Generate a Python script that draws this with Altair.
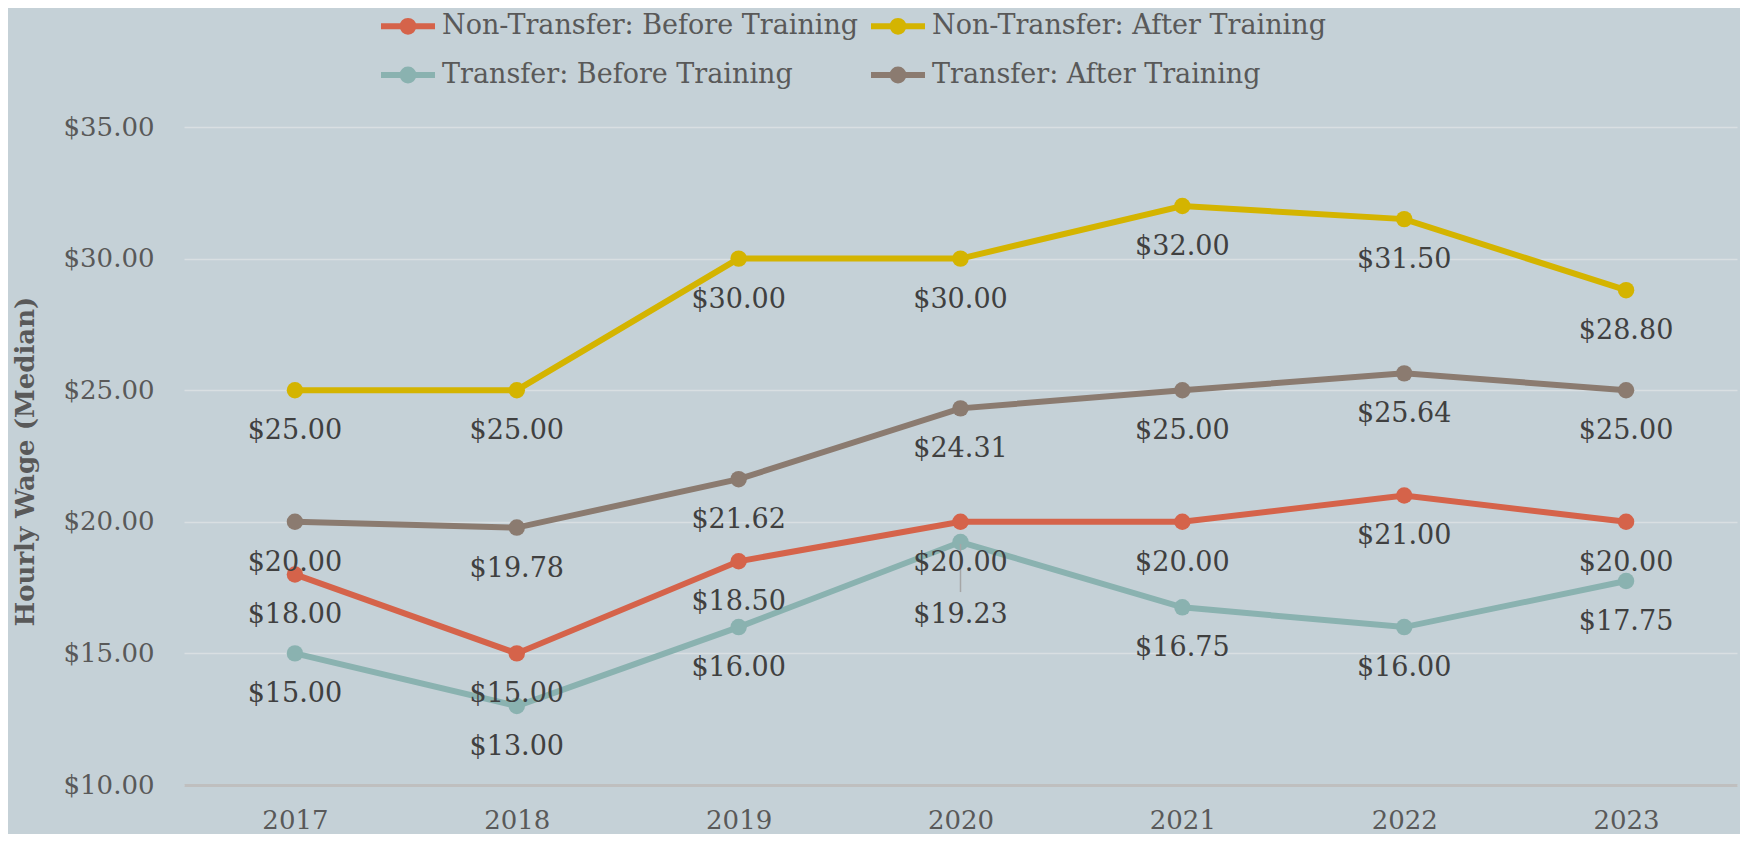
import altair as alt
import pandas as pd

years = ["2017", "2018", "2019", "2020", "2021", "2022", "2023"]
series_names = [
    "Non-Transfer: Before Training",
    "Non-Transfer: After Training",
    "Transfer: Before Training",
    "Transfer: After Training",
]
nt_before = [18.00, 15.00, 18.50, 20.00, 20.00, 21.00, 20.00]
nt_after = [25.00, 25.00, 30.00, 30.00, 32.00, 31.50, 28.80]
t_before = [15.00, 13.00, 16.00, 19.23, 16.75, 16.00, 17.75]
t_after = [20.00, 19.78, 21.62, 24.31, 25.00, 25.64, 25.00]
colors = ["#D5634A", "#D4B400", "#8AB2B0", "#8B7B70"]
y_ticks = [10, 15, 20, 25, 30, 35]

rows = []
for name, vals in zip(series_names, [nt_before, nt_after, t_before, t_after]):
    for yr, v in zip(years, vals):
        rows.append({"year": yr, "series": name, "wage": v})
df = pd.DataFrame(rows)

FONT = "DejaVu Serif"
moved = "datum.series == 'Transfer: Before Training' && datum.year == '2020'"

legend = alt.Legend(
    title=None, orient="none", legendX=194, legendY=-131, columns=2, direction="horizontal",
    labelFont=FONT, labelFontSize=27, labelColor="#595959", labelLimit=0,
    symbolType="M-1,0L1,0M0.2,0A0.2,0.2,0,1,1,-0.2,0A0.2,0.2,0,1,1,0.2,0Z",
    symbolSize=2916, symbolStrokeWidth=6, columnPadding=0, rowPadding=1,
    labelOffset=4, padding=0,
)
color = alt.Color("series:N", scale=alt.Scale(domain=series_names, range=colors), legend=legend)

x = alt.X("year:O", scale=alt.Scale(type="point", padding=0.5),
          axis=alt.Axis(title=None, labelFont=FONT, labelFontSize=26, labelColor="#595959",
                        labelPadding=22, ticks=False, domainColor="#BFBFBF", domainWidth=3,
                        grid=False, labelAngle=0))
y = alt.Y("wage:Q", scale=alt.Scale(domain=[10, 35], nice=False, zero=False),
          axis=alt.Axis(values=y_ticks, format="$.2f", title="Hourly Wage (Median)",
                        titleFont=FONT, titleFontSize=26, titleFontWeight="bold",
                        titleColor="#595959", titleX=-159, titleY=334, titleAngle=270,
                        titleAlign="center", titleBaseline="middle",
                        labelFont=FONT, labelFontSize=26, labelColor="#595959",
                        labelPadding=30, domain=False, ticks=False,
                        gridColor="#D9DFE2", gridWidth=1.5))

base = alt.Chart(df)
lines = base.mark_line(strokeWidth=6).encode(x=x, y=y, color=color, order=alt.Order("year:O"))
points = base.mark_point(filled=True, size=270, opacity=1).encode(x=x, y=y, color=color)
labels = base.transform_filter("!(" + moved + ")").mark_text(
    font=FONT, fontSize=27, color="#404040", dy=41, baseline="middle"
).encode(x=x, y=y, text=alt.Text("wage:Q", format="$.2f"))
moved_label = base.transform_filter(moved).mark_text(
    font=FONT, fontSize=27, color="#404040", dy=73, baseline="middle"
).encode(x=x, y=y, text=alt.Text("wage:Q", format="$.2f"))
leader = base.transform_filter(moved).mark_rule(
    color="#A6A6A6", strokeWidth=1.5, yOffset=2, y2Offset=50
).encode(x=x, y=y, y2=alt.Y2("wage:Q"))

chart = alt.layer(lines, points, leader, labels, moved_label).properties(
    width=1553, height=658,
    autosize=alt.AutoSizeParams(type="none"),
    padding={"left": 176, "top": 119, "right": 3, "bottom": 49},
    background="#C5D1D7",
).configure_view(stroke=None)

chart.save("out.html", embed_options={"renderer": "svg", "actions": False})
